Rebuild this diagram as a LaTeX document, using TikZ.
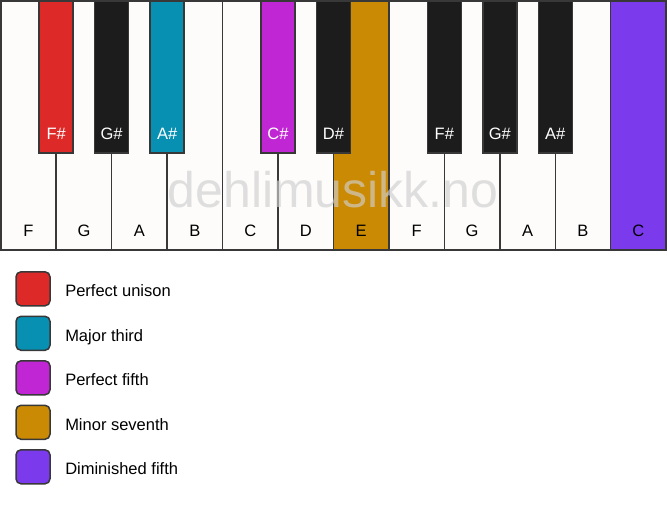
\documentclass[tikz,border=0pt]{standalone}
\usepackage{fontspec}
\setmainfont{Liberation Sans}
\definecolor{keyline}{HTML}{383838}
\definecolor{ivory}{HTML}{FDFCFA}
\definecolor{ebony}{HTML}{1C1C1C}
\definecolor{cred}{HTML}{DD2A29}
\definecolor{cteal}{HTML}{0890B2}
\definecolor{cmag}{HTML}{C026D3}
\definecolor{cgold}{HTML}{CA8A04}
\definecolor{cpurp}{HTML}{7C3AED}
\definecolor{wmark}{HTML}{CFCFCF}
\tikzset{
  whitekey/.style={draw=keyline, line width=1.5pt, fill=ivory, minimum width=55.45pt, minimum height=249.25pt, anchor=north west, inner sep=0pt, outer sep=0pt},
  blackkey/.style={draw=keyline, line width=1.5pt, fill=ebony, minimum width=34pt, minimum height=152.25pt, anchor=north, inner sep=0pt, outer sep=0pt},
  wlabel/.style={font=\fontsize{16.5}{18}\selectfont, text=black, anchor=base, inner sep=0pt},
  blabel/.style={font=\fontsize{16.5}{18}\selectfont, text=white, anchor=base, inner sep=0pt},
  legbox/.style={draw=keyline, line width=1.5pt, rounded corners=5pt, minimum width=34pt, minimum height=34pt, inner sep=0pt},
  legtext/.style={font=\fontsize{16.5}{18}\selectfont, anchor=base west, inner sep=0pt}
}
\begin{document}
\begin{tikzpicture}[x=1pt,y=-1pt]
\useasboundingbox[fill=white] (0,0) rectangle (667,506);
% white keys
\foreach \i/\n/\c in {0/F/ivory,1/G/ivory,2/A/ivory,3/B/ivory,4/C/ivory,5/D/ivory,6/E/cgold,7/F/ivory,8/G/ivory,9/A/ivory,10/B/ivory,11/C/cpurp}{
  \node[whitekey, fill=\c] (w\i) at ({0.75+\i*55.45},0.75) {};
}
% black keys
\foreach \k/\c/\t in {1/cred/F\#,2/ebony/G\#,3/cteal/A\#,5/cmag/C\#,6/ebony/D\#,8/ebony/F\#,9/ebony/G\#,10/ebony/A\#}{
  \node[blackkey, fill=\c] (b\k) at ({0.75+\k*55.45},0.75) {};
  \node[blabel] (bl\k) at ([yshift=14pt]b\k.south) {\t};
}
% watermark
\node[font=\fontsize{50}{52}\selectfont, text=wmark, text opacity=0.65, inner sep=0pt, anchor=base] (wm) at (333,207) {dehlimusikk.no};
% white key labels
\foreach \i/\n in {0/F,1/G,2/A,3/B,4/C,5/D,6/E,7/F,8/G,9/A,10/B,11/C}{
  \node[wlabel] (wl\i) at ([yshift=14pt]w\i.south) {\n};
}
% legend
\foreach \j/\c/\t in {0/cred/Perfect unison,1/cteal/Major third,2/cmag/Perfect fifth,3/cgold/Minor seventh,4/cpurp/Diminished fifth}{
  \node[legbox, fill=\c] (lb\j) at (33,{288.8+\j*44.5}) {};
  \node[legtext] (lt\j) at ([xshift=14.3pt,yshift=-8pt]lb\j.east) {\t};
}
\end{tikzpicture}
\end{document}
